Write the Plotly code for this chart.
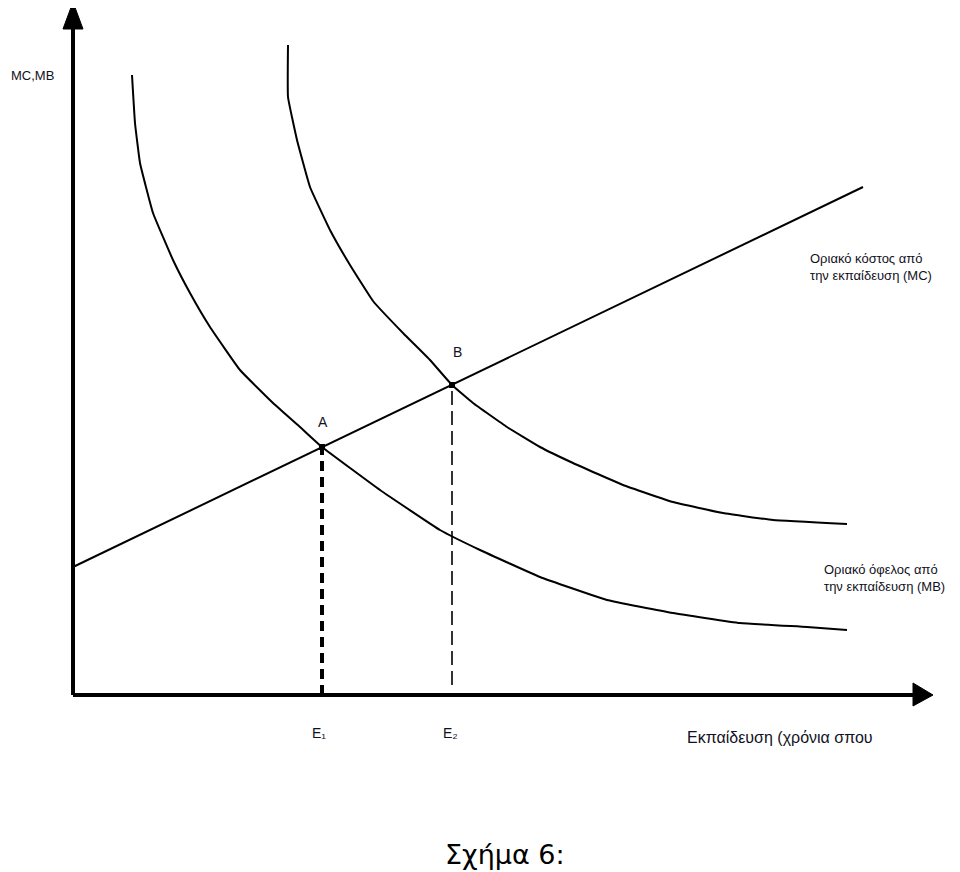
import plotly.graph_objects as go

# ---- data (units: years of education on x, value on y) ----
mc_x = [0.0, 7.9]
mc_y = [1.28, 5.08]

mb1_x = [0.59, 0.62, 0.67, 0.80, 1.00, 1.17, 1.37, 1.67, 2.00, 2.27, 2.49,
         3.07, 3.67, 4.07, 4.67, 5.34, 6.00, 6.67, 7.34, 7.74]
mb1_y = [6.20, 5.72, 5.32, 4.82, 4.35, 4.02, 3.68, 3.25, 2.92, 2.68, 2.48,
         2.05, 1.65, 1.45, 1.18, 0.95, 0.82, 0.72, 0.68, 0.65]

mb2_x = [2.15, 2.15, 2.24, 2.37, 2.57, 2.77, 3.00, 3.30, 3.57, 3.79, 4.00,
         4.34, 4.67, 5.00, 5.50, 6.00, 6.50, 7.00, 7.74]
mb2_y = [6.50, 5.98, 5.55, 5.08, 4.65, 4.30, 3.94, 3.62, 3.35, 3.10, 2.92,
         2.68, 2.48, 2.32, 2.10, 1.93, 1.82, 1.75, 1.71]

point_names = ["A", "Β"]
point_x = [2.49, 3.79]
point_y = [2.48, 3.10]

tick_labels = ["E₁", "E₂"]

y_axis_label = "MC,MB"
x_axis_label = "Εκπαίδευση (χρόνια σπου"
mc_label = "Οριακό κόστος από<br>την εκπαίδευση (MC)"
mb_label = "Οριακό όφελος από<br>την εκπαίδευση (MB)"
caption = "Σχήμα 6:"

x_axis_end = 8.40
x_arrow_tip = 8.60
y_axis_end = 6.66
y_arrow_tip = 6.93

fig = go.Figure()

black = "#000000"

# axes
fig.add_trace(go.Scatter(x=[0, x_axis_end], y=[0, 0], mode="lines",
                         line=dict(color=black, width=4), hoverinfo="skip"))
fig.add_trace(go.Scatter(x=[0, 0], y=[0, y_axis_end], mode="lines",
                         line=dict(color=black, width=4), hoverinfo="skip"))
# arrowheads
fig.add_trace(go.Scatter(x=[x_axis_end, x_arrow_tip, x_axis_end, x_axis_end],
                         y=[0.12, 0, -0.11, 0.12], mode="lines", fill="toself",
                         fillcolor=black, line=dict(color=black, width=1), hoverinfo="skip"))
fig.add_trace(go.Scatter(x=[-0.10, 0, 0.10, -0.10],
                         y=[y_axis_end, y_arrow_tip, y_axis_end, y_axis_end],
                         mode="lines", fill="toself",
                         fillcolor=black, line=dict(color=black, width=1), hoverinfo="skip"))

# curves
fig.add_trace(go.Scatter(x=mc_x, y=mc_y, mode="lines",
                         line=dict(color=black, width=2)))
fig.add_trace(go.Scatter(x=mb1_x, y=mb1_y, mode="lines",
                         line=dict(color=black, width=2, shape="spline", smoothing=0.3)))
fig.add_trace(go.Scatter(x=mb2_x, y=mb2_y, mode="lines",
                         line=dict(color=black, width=2, shape="spline", smoothing=0.3)))

# dashed drop lines
fig.add_trace(go.Scatter(x=[point_x[0], point_x[0]], y=[0, point_y[0]], mode="lines",
                         line=dict(color=black, width=4, dash="10px,6px")))
fig.add_trace(go.Scatter(x=[point_x[1], point_x[1]], y=[0.10, point_y[1]], mode="lines",
                         line=dict(color=black, width=1.6, dash="14px,6px")))

# intersection points
fig.add_trace(go.Scatter(x=point_x, y=point_y, mode="markers",
                         marker=dict(color=black, size=6, symbol="square")))

small_font = dict(family="Liberation Sans", size=14, color="#111122")
label_font = dict(family="Liberation Sans", size=13, color="#111122")

# point labels
fig.add_annotation(x=point_x[0] + 0.01, y=point_y[0] + 0.25, text=point_names[0],
                   showarrow=False, font=small_font)
fig.add_annotation(x=point_x[1] + 0.05, y=point_y[1] + 0.33, text=point_names[1],
                   showarrow=False, font=small_font)

# tick labels
fig.add_annotation(x=point_x[0] - 0.03, y=-0.38, text=tick_labels[0],
                   showarrow=False, font=small_font)
fig.add_annotation(x=point_x[1] - 0.02, y=-0.38, text=tick_labels[1],
                   showarrow=False, font=small_font)

# axis labels
fig.add_annotation(x=0.001, y=6.20, xref="paper", text=y_axis_label, showarrow=False,
                   xanchor="left",
                   font=dict(family="Liberation Sans", size=13, color="#111122"))
fig.add_annotation(x=6.12, y=-0.42, text=x_axis_label, showarrow=False, xanchor="left",
                   font=dict(family="Liberation Sans", size=16, color="#111122"))

# curve labels
fig.add_annotation(x=7.35, y=4.28, text=mc_label, showarrow=False, xanchor="left",
                   align="left", font=label_font)
fig.add_annotation(x=7.49, y=1.17, text=mb_label, showarrow=False, xanchor="left",
                   align="left", font=label_font)

# caption
fig.add_annotation(x=497 / 960, y=1 - 864 / 872, xref="paper", yref="paper", text=caption,
                   showarrow=False, font=dict(family="DejaVu Sans", size=27, color=black))

fig.update_xaxes(range=[-0.65, 8.95], visible=False)
fig.update_yaxes(range=[-1.85, 6.87], visible=False)
fig.update_layout(width=960, height=872, margin=dict(l=0, r=0, t=0, b=0),
                  plot_bgcolor="white", paper_bgcolor="white", showlegend=False)

fig.write_html("out.html")
